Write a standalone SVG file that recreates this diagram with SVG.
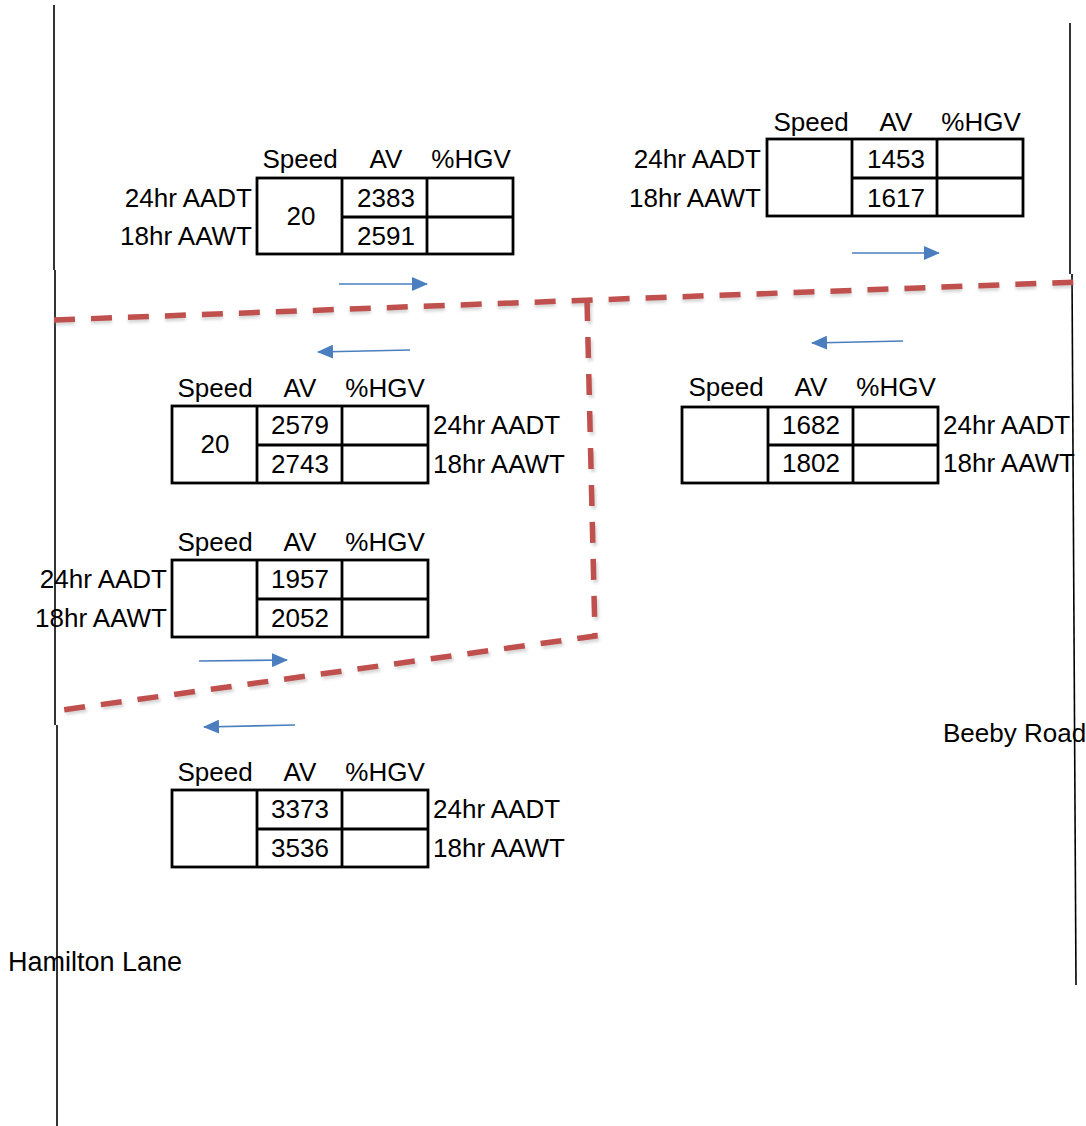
<svg xmlns="http://www.w3.org/2000/svg" width="1086" height="1126" viewBox="0 0 1086 1126">
<style>
text{font-family:"Liberation Sans",Arial,sans-serif;font-size:26px;fill:#000}
.c{text-anchor:middle}.r{text-anchor:end}
.grid{fill:none;stroke:#000;stroke-width:2.8}
.road{stroke:#000;stroke-width:1.6;fill:none}
.dash{fill:none;stroke:#c0504d;stroke-width:5.5;stroke-dasharray:21 16}
.shadow{fill:none;stroke:#888;stroke-width:5;stroke-dasharray:21 16;opacity:0.35}
.arr{stroke:#4a7ebf;stroke-width:1.6;fill:none;marker-end:url(#ah)}
</style>
<defs>
<marker id="ah" markerUnits="userSpaceOnUse" markerWidth="16" markerHeight="14" refX="15" refY="7" orient="auto">
<path d="M0,0 L16,7 L0,14 z" fill="#4a7ebf"/>
</marker>
<filter id="blur" x="-5%" y="-50%" width="110%" height="200%"><feGaussianBlur stdDeviation="1.5"/></filter>
</defs>
<rect width="1086" height="1126" fill="#fff"/>
<g id="roads">
<line class="road" x1="54" y1="5" x2="54" y2="270"/>
<line class="road" x1="55" y1="270" x2="55" y2="725"/>
<line class="road" x1="57" y1="725" x2="57" y2="1126"/>
<line class="road" x1="1070" y1="23" x2="1070" y2="274"/>
<line class="road" x1="1072" y1="274" x2="1076" y2="985"/>
</g>
<g id="boundary">
<path class="shadow" filter="url(#blur)" d="M54,323 L1077,285"/>
<path class="shadow" filter="url(#blur)" d="M589,303 L597,639 L62,713"/>
<path class="dash" d="M54,320 L1077,282"/>
<path class="dash" d="M587,300 L595,636 L62,710"/>
</g>
<g id="connectors">
<line class="arr" x1="339" y1="284" x2="427" y2="284"/>
<line class="arr" x1="852" y1="253" x2="939" y2="253"/>
<line class="arr" x1="410" y1="350" x2="318" y2="352"/>
<line class="arr" x1="903" y1="341" x2="812" y2="343"/>
<line class="arr" x1="199" y1="661" x2="287" y2="660"/>
<line class="arr" x1="295" y1="725" x2="204" y2="727"/>
</g>
<g id="table1">
<rect class="grid" x="257" y="178" width="256" height="76"/>
<path class="grid" d="M342,178 V254 M427,178 V254 M342,217 H513"/>
<text class="c" x="300" y="168">Speed</text><text class="c" x="386" y="168">AV</text><text class="c" x="471" y="168">%HGV</text>
<text class="r" x="252" y="207">24hr AADT</text><text class="r" x="252" y="245">18hr AAWT</text>
<text class="c" x="301" y="225">20</text>
<text class="c" x="386" y="207">2383</text><text class="c" x="386" y="245">2591</text>
</g>
<g id="table2">
<rect class="grid" x="767" y="139" width="256" height="77"/>
<path class="grid" d="M852,139 V216 M937,139 V216 M852,178 H1023"/>
<text class="c" x="811" y="131">Speed</text><text class="c" x="896" y="131">AV</text><text class="c" x="981" y="131">%HGV</text>
<text class="r" x="761" y="168">24hr AADT</text><text class="r" x="761" y="207">18hr AAWT</text>
<text class="c" x="896" y="168">1453</text><text class="c" x="896" y="207">1617</text>
</g>
<g id="table3">
<rect class="grid" x="172" y="406" width="256" height="77"/>
<path class="grid" d="M257,406 V483 M342,406 V483 M257,445 H428"/>
<text class="c" x="215" y="397">Speed</text><text class="c" x="300" y="397">AV</text><text class="c" x="385" y="397">%HGV</text>
<text x="433" y="434">24hr AADT</text><text x="433" y="473">18hr AAWT</text>
<text class="c" x="215" y="453">20</text>
<text class="c" x="300" y="434">2579</text><text class="c" x="300" y="473">2743</text>
</g>
<g id="table4">
<rect class="grid" x="682" y="407" width="256" height="76"/>
<path class="grid" d="M768,407 V483 M853,407 V483 M768,445 H938"/>
<text class="c" x="726" y="396">Speed</text><text class="c" x="811" y="396">AV</text><text class="c" x="896" y="396">%HGV</text>
<text x="943" y="434">24hr AADT</text><text x="943" y="472">18hr AAWT</text>
<text class="c" x="811" y="434">1682</text><text class="c" x="811" y="472">1802</text>
</g>
<g id="table5">
<rect class="grid" x="172" y="560" width="256" height="77"/>
<path class="grid" d="M257,560 V637 M342,560 V637 M257,599 H428"/>
<text class="c" x="215" y="551">Speed</text><text class="c" x="300" y="551">AV</text><text class="c" x="385" y="551">%HGV</text>
<text class="r" x="167" y="588">24hr AADT</text><text class="r" x="167" y="627">18hr AAWT</text>
<text class="c" x="300" y="588">1957</text><text class="c" x="300" y="627">2052</text>
</g>
<g id="table6">
<rect class="grid" x="172" y="790" width="256" height="77"/>
<path class="grid" d="M257,790 V867 M342,790 V867 M257,829 H428"/>
<text class="c" x="215" y="781">Speed</text><text class="c" x="300" y="781">AV</text><text class="c" x="385" y="781">%HGV</text>
<text x="433" y="818">24hr AADT</text><text x="433" y="857">18hr AAWT</text>
<text class="c" x="300" y="818">3373</text><text class="c" x="300" y="857">3536</text>
</g>
<g id="labels">
<text x="8" y="971" style="font-size:27px">Hamilton Lane</text>
<text x="943" y="742">Beeby Road</text>
</g>
</svg>
